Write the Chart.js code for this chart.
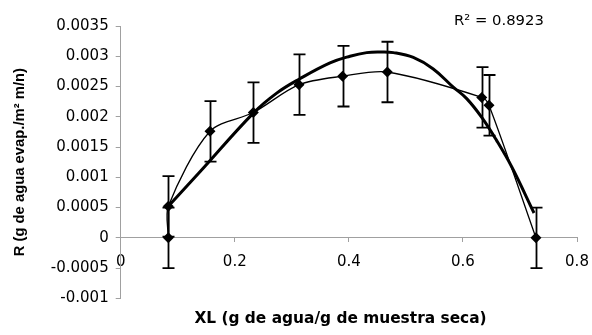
<!DOCTYPE html>
<html><head><meta charset="utf-8">
<script src="https://cdn.jsdelivr.net/npm/chart.js@4.4.1/dist/chart.umd.min.js"></script>
<style>html,body{margin:0;padding:0;background:#fff;}canvas{display:block;}</style>
</head><body>
<canvas id="c" width="592" height="335" style="width:592px;height:335px"></canvas>
<script>
// ---- data ----
const xValues = [0.0835, 0.0835, 0.1566, 0.2325, 0.3126, 0.389, 0.4674, 0.633, 0.6457, 0.728];
const rValues = [0, 0.00052, 0.00176, 0.00207, 0.00253, 0.00267, 0.00274, 0.00232, 0.00219, 0];
const rErrors = [0.0005, 0.0005, 0.0005, 0.0005, 0.0005, 0.0005, 0.0005, 0.0005, 0.0005, 0.0005];
const trendX = [0.0835, 0.139, 0.2325, 0.2735, 0.3126, 0.367, 0.402, 0.4313, 0.455, 0.478, 0.513, 0.548, 0.583, 0.6066, 0.633, 0.659, 0.6857, 0.7247];
const trendY = [0.00052, 0.00109, 0.00206, 0.00239, 0.00262, 0.00289, 0.00300, 0.00306, 0.00307, 0.00306, 0.00298, 0.00279, 0.00249, 0.0023, 0.00199, 0.00161, 0.00117, 0.00041];
const xTicks = [0, 0.2, 0.4, 0.6, 0.8];
const xTickLabels = ['0', '0.2', '0.4', '0.6', '0.8'];
const yTicks = [-0.001, -0.0005, 0, 0.0005, 0.001, 0.0015, 0.002, 0.0025, 0.003, 0.0035];
const yTickLabels = ['-0.001', '-0.0005', '0', '0.0005', '0.001', '0.0015', '0.002', '0.0025', '0.003', '0.0035'];
const xTitle = 'XL (g de agua/g de muestra seca)';
const yTitle = 'R (g de agua evap./m\u00B2 m/n)';
const r2Label = 'R\u00B2 = 0.8923';

const pointData = xValues.map((x, i) => ({x: x, y: rValues[i]}));
const trendData = trendX.map((x, i) => ({x: x, y: trendY[i]}));

const errorBars = {
  id: 'errorBars',
  afterDatasetsDraw(chart) {
    const {ctx, scales: {x, y}} = chart;
    ctx.save();
    ctx.strokeStyle = '#000';
    ctx.lineWidth = 1.8;
    xValues.forEach((xv, i) => {
      const px = Math.round(x.getPixelForValue(xv)) + 0.5;
      const top = y.getPixelForValue(rValues[i] + rErrors[i]);
      const bot = y.getPixelForValue(rValues[i] - rErrors[i]);
      ctx.beginPath();
      ctx.moveTo(px, top); ctx.lineTo(px, bot);
      ctx.moveTo(px - 6, top); ctx.lineTo(px + 6, top);
      ctx.moveTo(px - 6, bot); ctx.lineTo(px + 6, bot);
      ctx.stroke();
    });
    ctx.restore();
  }
};

const extraText = {
  id: 'extraText',
  afterDraw(chart) {
    const ctx = chart.ctx;
    ctx.save();
    ctx.fillStyle = '#000';
    ctx.textBaseline = 'middle';
    ctx.font = '14.8px "DejaVu Sans"';
    ctx.textAlign = 'left';
    ctx.fillText(r2Label, 454, 21);
    ctx.font = 'bold 15.4px "DejaVu Sans"';
    ctx.textAlign = 'center';
    ctx.fillText(xTitle, 340.5, 319);
    ctx.restore();
  }
};

new Chart(document.getElementById('c'), {
  type: 'line',
  data: {
    datasets: [
      {
        data: pointData,
        borderColor: '#000',
        backgroundColor: '#000',
        borderWidth: 1.3,
        tension: 0.3,
        pointStyle: 'rectRot',
        pointRadius: 5.5,
        pointBorderWidth: 0,
        pointBackgroundColor: '#000'
      },
      {
        data: trendData,
        borderColor: '#000',
        borderWidth: 3,
        tension: 0.4,
        pointRadius: 0
      }
    ]
  },
  options: {
    responsive: false,
    animation: false,
    devicePixelRatio: 1,
    layout: {padding: {left: 0, top: 26, right: 15, bottom: 36.7}},
    plugins: {legend: {display: false}, tooltip: {enabled: false}, title: {display: false}},
    scales: {
      x: {
        type: 'linear',
        position: {y: 0},
        min: 0, max: 0.8,
        afterBuildTicks(scale) { scale.ticks = xTicks.map(v => ({value: v})); },
        afterFit(scale) { scale.paddingLeft = 0; scale.paddingRight = 0; },
        ticks: {
          callback: (v) => xTickLabels[xTicks.indexOf(v)] ?? '',
          color: '#000',
          font: {family: 'DejaVu Sans', size: 15},
          padding: 11,
          maxRotation: 0
        },
        grid: {display: true, drawOnChartArea: false, tickLength: 4, color: '#a0a0a0'},
        border: {color: '#a0a0a0', width: 1}
      },
      y: {
        type: 'linear',
        position: 'left',
        min: -0.001, max: 0.0035,
        afterBuildTicks(scale) { scale.ticks = yTicks.map(v => ({value: v})); },
        afterFit(scale) { scale.width = 120.7; },
        ticks: {
          callback: (v) => yTickLabels[yTicks.indexOf(v)] ?? '',
          color: '#000',
          font: {family: 'DejaVu Sans', size: 15},
          padding: 7
        },
        grid: {display: true, drawOnChartArea: false, tickLength: 5, color: '#a0a0a0'},
        border: {color: '#a0a0a0', width: 1},
        title: {
          display: true,
          text: yTitle,
          color: '#000',
          font: {family: 'Liberation Sans', size: 14.8, weight: 'bold'},
          padding: {top: 11.5, bottom: 0}
        }
      }
    }
  },
  plugins: [errorBars, extraText]
});
</script>
</body></html>
